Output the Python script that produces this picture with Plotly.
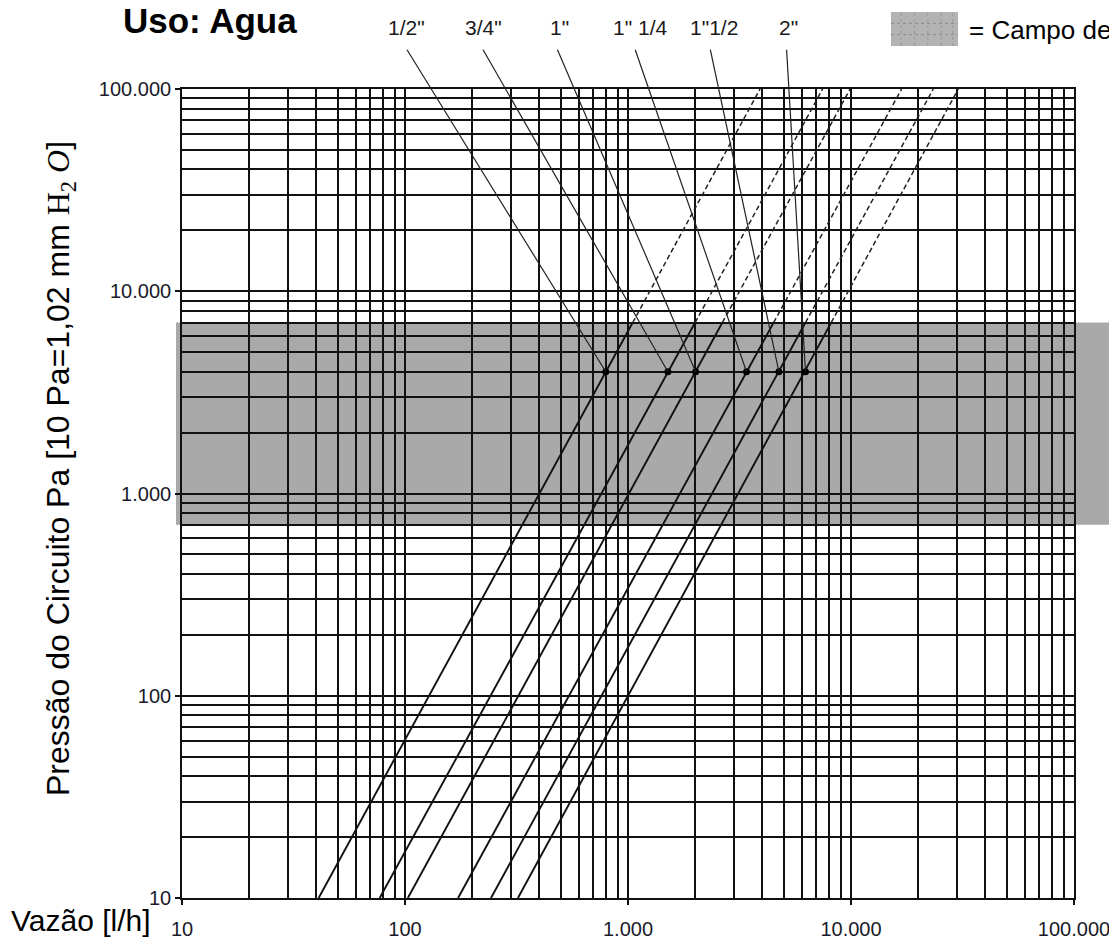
import numpy as np
import plotly.graph_objects as go

# ---------------- data ----------------
pipe_labels = ['1/2"', '3/4"', '1"', '1" 1/4', '1"1/2', '2"']
q_at_p_low = [41, 77, 103, 173, 243, 321]              # flow [l/h] at P = 10
q_at_p_switch = [1050, 2000, 2650, 4500, 6250, 8150]   # flow [l/h] at P = 7.000 (solid -> dashed)
q_at_p_high = [3910, 7460, 9910, 16860, 23380, 30270]  # flow [l/h] at P = 100.000
p_low, p_switch, p_high = 10, 7000, 100000
marker_q = [795, 1510, 2010, 3400, 4750, 6250]
marker_p = 4000
band_p = [700, 7000]

tick_vals = [10, 100, 1000, 10000, 100000]
tick_text = ['10', '100', '1.000', '10.000', '100.000']
minor_vals = [k * 10 ** e for e in range(1, 5) for k in range(2, 10)]

# ---------------- layout constants ----------------
OFF = 8                      # page body margin of the exported html
W, H = 1117 - OFF, 942 - OFF
ML, MT = 182 - OFF, 89 - OFF
PW, PH = 892, 809
MR, MB = W - ML - PW, H - MT - PH


def px_x(X):
    return (X - OFF - ML) / PW


def px_y(Y):
    return (MT + PH - (Y - OFF)) / PH


FONT = 'Liberation Sans, Arial, sans-serif'
INK = '#111111'

fig = go.Figure()

for i in range(len(pipe_labels)):
    fig.add_trace(go.Scatter(
        x=[q_at_p_low[i], q_at_p_switch[i]], y=[p_low, p_switch],
        mode='lines', line=dict(color=INK, width=1.9),
        showlegend=False, hoverinfo='skip'))
    fig.add_trace(go.Scatter(
        x=[q_at_p_switch[i], q_at_p_high[i]], y=[p_switch, p_high],
        mode='lines', line=dict(color='#222222', width=1.5, dash='5px,3px'),
        showlegend=False, hoverinfo='skip'))

fig.add_trace(go.Scatter(
    x=marker_q, y=[marker_p] * len(marker_q), mode='markers',
    marker=dict(color='black', size=7), showlegend=False, hoverinfo='skip'))

axis_common = dict(
    type='log', range=[1, 5], automargin=False,
    tickvals=tick_vals, ticktext=tick_text,
    showgrid=True, gridcolor=INK, gridwidth=1.7,
    showline=True, linecolor=INK, linewidth=1.7, mirror=True,
    ticks='outside', ticklen=5, tickwidth=1.5, tickcolor=INK,
    tickfont=dict(family=FONT, size=20, color='#1a1a2a'),
    ticklabeloverflow='allow',
    minor=dict(tickvals=minor_vals, showgrid=True, gridcolor=INK,
               gridwidth=1.7, ticks=''),
    zeroline=False, fixedrange=True,
)
fig.update_xaxes(ticklabelstandoff=7, **axis_common)
fig.update_yaxes(**axis_common)

shapes = []
# grey "campo" band
shapes.append(dict(type='rect', xref='paper', yref='y', x0=px_x(176), x1=px_x(1125),
                   y0=band_p[0], y1=band_p[1], fillcolor='#a9a9a9',
                   line=dict(width=0), layer='below'))
# legend swatch
sx0, sx1, sy0, sy1 = px_x(891), px_x(958), px_y(46), px_y(12)
shapes.append(dict(type='rect', xref='paper', yref='paper', x0=sx0, x1=sx1,
                   y0=sy0, y1=sy1, fillcolor='#b3b3b3', line=dict(width=0)))
for f in (1 / 3, 2 / 3):
    yy = sy0 + f * (sy1 - sy0)
    shapes.append(dict(type='line', xref='paper', yref='paper', x0=sx0, x1=sx1,
                       y0=yy, y1=yy, line=dict(color='#8a8a8a', width=1, dash='dot')))
for f in (0.15, 0.35, 0.55, 0.75, 0.92):
    xx = sx0 + f * (sx1 - sx0)
    shapes.append(dict(type='line', xref='paper', yref='paper', x0=xx, x1=xx,
                       y0=sy0, y1=sy1, line=dict(color='#999999', width=1, dash='dot')))

annotations = []
# leader lines from the size labels to the markers
leader_dx = [-200, -186, -139, -112, -69, -19]
for i in range(len(pipe_labels)):
    annotations.append(dict(
        x=np.log10(marker_q[i]), y=np.log10(marker_p), xref='x', yref='y',
        text=' ', font=dict(size=1), showarrow=True, arrowhead=0,
        arrowwidth=1.2, arrowcolor='#222222', standoff=0, startstandoff=0,
        ax=leader_dx[i], ay=-324, axref='pixel', ayref='pixel'))

label_px = [406, 483, 559, 640, 714, 788]
for i, lab in enumerate(pipe_labels):
    annotations.append(dict(
        x=px_x(label_px[i]), y=px_y(28), xref='paper', yref='paper',
        text=lab, showarrow=False, xanchor='center', yanchor='middle',
        font=dict(family=FONT, size=21, color='#1a1a1a')))

annotations.append(dict(
    x=px_x(210), y=px_y(20), xref='paper', yref='paper', text='<b>Uso: Agua</b>',
    showarrow=False, xanchor='center', yanchor='middle',
    font=dict(family=FONT, size=35, color='black')))
annotations.append(dict(
    x=px_x(967), y=px_y(30), xref='paper', yref='paper', text='= Campo de',
    showarrow=False, xanchor='left', yanchor='middle',
    font=dict(family=FONT, size=26, color='black')))
annotations.append(dict(
    x=px_x(81), y=px_y(920), xref='paper', yref='paper', text='Vazão [l/h]',
    showarrow=False, xanchor='center', yanchor='middle',
    font=dict(family=FONT, size=30, color='black')))
annotations.append(dict(
    x=px_x(60), y=px_y(469), xref='paper', yref='paper',
    text='Pressão do Circuito Pa [10 Pa=1,02 mm '
         '<span style="font-family:Liberation Serif, Times New Roman, serif">'
         'H<sub>2</sub> <i>O</i></span>]',
    textangle=-90, showarrow=False, xanchor='center', yanchor='middle',
    font=dict(family=FONT, size=32, color='black')))

fig.update_layout(
    width=W, height=H, margin=dict(l=ML, r=MR, t=MT, b=MB, pad=0, autoexpand=False),
    paper_bgcolor='white', plot_bgcolor='white',
    shapes=shapes, annotations=annotations, showlegend=False,
)

fig.write_html('out.html')
